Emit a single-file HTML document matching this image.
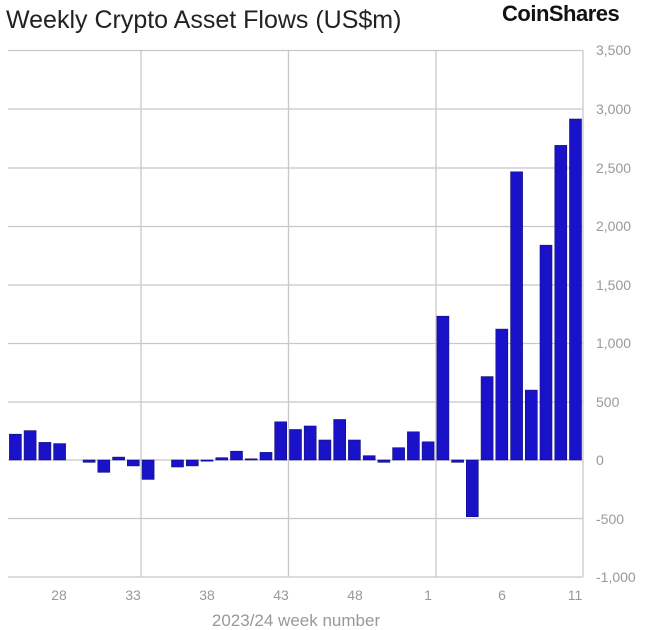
<!DOCTYPE html>
<html><head><meta charset="utf-8"><style>
body{margin:0;background:#fff;}
svg{display:block;font-family:"Liberation Sans",Arial,sans-serif;}
</style></head><body>
<svg width="651" height="630" viewBox="0 0 651 630">
<text x="6" y="28" font-size="25" fill="#222">Weekly Crypto Asset Flows (US$m)</text>
<text x="502" y="21" font-size="22" fill="#111" font-weight="bold" letter-spacing="-0.5">CoinShares</text>
<g stroke="#c8c8c8" stroke-width="1.3">
<line x1="8" y1="50.5" x2="583" y2="50.5"/>
<line x1="8" y1="109" x2="583" y2="109"/>
<line x1="8" y1="168" x2="583" y2="168"/>
<line x1="8" y1="226.5" x2="583" y2="226.5"/>
<line x1="8" y1="285" x2="583" y2="285"/>
<line x1="8" y1="343.5" x2="583" y2="343.5"/>
<line x1="8" y1="402" x2="583" y2="402"/>
<line x1="8" y1="460" x2="583" y2="460"/>
<line x1="8" y1="518.5" x2="583" y2="518.5"/>
<line x1="8" y1="577" x2="583" y2="577"/>
<line x1="141" y1="50" x2="141" y2="577"/>
<line x1="288.5" y1="50" x2="288.5" y2="577"/>
<line x1="436" y1="50" x2="436" y2="577"/>
<line x1="583" y1="50" x2="583" y2="577"/>
</g>
<g fill="#999" font-size="14">
<text x="596" y="55">3,500</text>
<text x="596" y="114">3,000</text>
<text x="596" y="173">2,500</text>
<text x="596" y="231">2,000</text>
<text x="596" y="290">1,500</text>
<text x="596" y="348">1,000</text>
<text x="596" y="407">500</text>
<text x="596" y="465">0</text>
<text x="596" y="524">-500</text>
<text x="596" y="582">-1,000</text>
</g>
<g fill="#999" font-size="14" text-anchor="middle">
<text x="59" y="600">28</text>
<text x="133" y="600">33</text>
<text x="207" y="600">38</text>
<text x="281" y="600">43</text>
<text x="355" y="600">48</text>
<text x="428" y="600">1</text>
<text x="502" y="600">6</text>
<text x="575" y="600">11</text>
<text x="296" y="626" font-size="17">2023/24 week number</text>
</g>
<g fill="#1a12c8" stroke="#10107a" stroke-width="0.6">
<rect x="9.4" y="434.2" width="12" height="25.8"/>
<rect x="24.1" y="430.6" width="12" height="29.4"/>
<rect x="38.9" y="442.4" width="12" height="17.6"/>
<rect x="53.6" y="443.6" width="12" height="16.4"/>
<rect x="83.1" y="460" width="12" height="2.3"/>
<rect x="97.8" y="460" width="12" height="12.3"/>
<rect x="112.6" y="457.1" width="12" height="2.9"/>
<rect x="127.3" y="460" width="12" height="5.9"/>
<rect x="142.1" y="460" width="12" height="19.4"/>
<rect x="171.5" y="460" width="12" height="7"/>
<rect x="186.3" y="460" width="12" height="5.9"/>
<rect x="201.0" y="460" width="12" height="1.2"/>
<rect x="215.8" y="457.7" width="12" height="2.3"/>
<rect x="230.5" y="451.2" width="12" height="8.8"/>
<rect x="245.2" y="458.8" width="12" height="1.2"/>
<rect x="260.0" y="452.4" width="12" height="7.6"/>
<rect x="274.7" y="421.8" width="12" height="38.2"/>
<rect x="289.5" y="429.5" width="12" height="30.5"/>
<rect x="304.2" y="426.0" width="12" height="34"/>
<rect x="318.9" y="440.0" width="12" height="20"/>
<rect x="333.7" y="419.5" width="12" height="40.5"/>
<rect x="348.4" y="440.0" width="12" height="20"/>
<rect x="363.2" y="455.7" width="12" height="4.3"/>
<rect x="377.9" y="460" width="12" height="2.3"/>
<rect x="392.6" y="447.7" width="12" height="12.3"/>
<rect x="407.4" y="431.8" width="12" height="28.2"/>
<rect x="422.1" y="441.8" width="12" height="18.2"/>
<rect x="436.9" y="316.2" width="12" height="143.8"/>
<rect x="451.6" y="460" width="12" height="2.3"/>
<rect x="466.3" y="460" width="12" height="56.7"/>
<rect x="481.1" y="376.6" width="12" height="83.4"/>
<rect x="495.8" y="329.1" width="12" height="130.9"/>
<rect x="510.6" y="171.8" width="12" height="288.2"/>
<rect x="525.3" y="390.1" width="12" height="69.9"/>
<rect x="540.0" y="245.2" width="12" height="214.8"/>
<rect x="554.8" y="145.4" width="12" height="314.6"/>
<rect x="569.5" y="119.0" width="12" height="341"/>
</g>
</svg>
</body></html>
